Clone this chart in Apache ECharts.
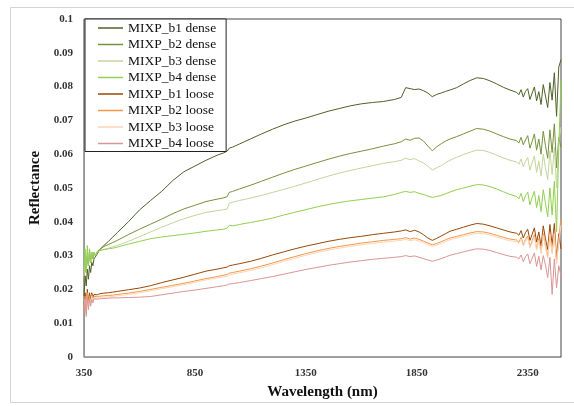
<!DOCTYPE html>
<html>
<head>
<meta charset="utf-8">
<script src="https://cdn.jsdelivr.net/npm/echarts@6/dist/echarts.min.js"></script>
<style>
html,body{margin:0;padding:0;background:#fff;}
#chart{width:574px;height:406px;}
</style>
</head>
<body>
<div id="chart"></div>
<script>
// Wavelengths (nm) shared by every series
var wavelengths = [
  350,355,360,365,370,375,380,385,390,395,400,
  410,420,440,460,480,500,
  550,600,650,700,750,800,850,900,950,
  980,995,1005,1020,
  1050,
  1100,1150,1200,1250,1300,1350,1400,1450,1500,1550,1600,1650,1700,1750,
  1780,
  1800,1820,1840,1860,1880,1900,1920,1940,1960,1980,2000,
  2030,2060,2090,2120,2150,2180,2210,2240,2270,
  2300,2310,2320,2330,2340,2350,2360,2370,2380,2390,2400,2410,2420,2430,2440,2450,2460,2470,2480,2490,2500
];

var seriesNames = ['MIXP_b1 dense','MIXP_b2 dense','MIXP_b3 dense','MIXP_b4 dense',
                   'MIXP_b1 loose','MIXP_b2 loose','MIXP_b3 loose','MIXP_b4 loose'];

var b1Dense = [
  0.018,0.024,0.021,0.026,0.023,0.027,0.025,0.028,0.027,0.029,0.029,
  0.0305,0.0317,0.0330,0.0342,0.0355,0.0368,
  0.0400,0.0435,0.0463,0.0490,0.0522,0.0548,0.0565,0.0582,0.0597,
  0.0604,0.0609,0.0618,0.0621,
  0.0630,
  0.0645,0.0660,0.0674,0.0687,0.0698,0.0707,0.0717,0.0727,0.0735,0.0743,0.0749,0.0753,0.0756,0.0762,
  0.0768,
  0.0797,0.0794,0.0791,0.0793,0.0788,0.0781,0.0770,0.0777,0.0781,0.0786,0.0790,
  0.0797,0.0808,0.0818,0.0826,0.0824,0.0817,0.0808,0.0798,0.0790,
  0.0783,0.0776,0.0791,0.0769,0.0786,0.0794,0.0762,0.0781,0.0799,0.0758,0.0785,0.0747,0.0806,0.0772,0.0738,0.0812,0.0760,0.0841,0.0712,0.0858,0.0880
];
var b2Dense = [
  0.022,0.028,0.025,0.030,0.027,0.031,0.028,0.031,0.029,0.031,0.030,
  0.0312,0.0318,0.0327,0.0333,0.0339,0.0345,
  0.0362,0.0378,0.0393,0.0408,0.0424,0.0438,0.0449,0.0460,0.0467,
  0.0471,0.0474,0.0487,0.0490,
  0.0497,
  0.0508,0.0520,0.0532,0.0544,0.0555,0.0565,0.0575,0.0585,0.0594,0.0602,0.0609,0.0616,0.0624,0.0631,
  0.0637,
  0.0645,0.0641,0.0647,0.0648,0.0639,0.0624,0.0610,0.0622,0.0631,0.0639,0.0645,
  0.0652,0.0660,0.0668,0.0676,0.0674,0.0668,0.0660,0.0652,0.0645,
  0.0640,0.0633,0.0650,0.0628,0.0642,0.0655,0.0618,0.0638,0.0660,0.0612,0.0645,0.0600,0.0668,0.0625,0.0588,0.0672,0.0605,0.0690,0.0560,0.0650,0.0620
];
var b3Dense = [
  0.024,0.029,0.026,0.031,0.028,0.032,0.029,0.031,0.030,0.031,0.030,
  0.0310,0.0314,0.0318,0.0322,0.0326,0.0330,
  0.0342,0.0356,0.0370,0.0384,0.0397,0.0409,0.0419,0.0428,0.0433,
  0.0436,0.0438,0.0455,0.0458,
  0.0463,
  0.0470,0.0478,0.0487,0.0496,0.0505,0.0515,0.0525,0.0535,0.0544,0.0552,0.0559,0.0566,0.0573,0.0578,
  0.0582,
  0.0588,0.0584,0.0587,0.0580,0.0574,0.0564,0.0553,0.0560,0.0566,0.0575,0.0582,
  0.0591,0.0599,0.0606,0.0612,0.0611,0.0605,0.0597,0.0589,0.0582,
  0.0577,0.0570,0.0586,0.0563,0.0579,0.0590,0.0553,0.0575,0.0595,0.0546,0.0580,0.0535,0.0600,0.0560,0.0525,0.0610,0.0540,0.0620,0.0500,0.0640,0.0680
];
var b4Dense = [
  0.026,0.032,0.025,0.033,0.027,0.032,0.028,0.031,0.029,0.031,0.030,
  0.0308,0.0315,0.0318,0.0320,0.0322,0.0325,
  0.0334,0.0342,0.0350,0.0355,0.0359,0.0363,0.0367,0.0372,0.0376,
  0.0378,0.0381,0.0390,0.0388,
  0.0392,
  0.0398,0.0404,0.0411,0.0420,0.0428,0.0436,0.0444,0.0451,0.0457,0.0462,0.0466,0.0470,0.0474,0.0481,
  0.0487,
  0.0490,0.0487,0.0489,0.0484,0.0481,0.0476,0.0472,0.0475,0.0478,0.0483,0.0488,
  0.0495,0.0500,0.0505,0.0510,0.0509,0.0504,0.0497,0.0489,0.0481,
  0.0475,0.0468,0.0484,0.0460,0.0477,0.0488,0.0450,0.0472,0.0490,0.0442,0.0478,0.0430,0.0495,0.0455,0.0415,0.0500,0.0420,0.0520,0.0370,0.0620,0.0820
];
var b1Loose = [
  0.015,0.019,0.014,0.020,0.016,0.019,0.017,0.019,0.0175,0.0185,0.0180,
  0.0184,0.0187,0.0189,0.0190,0.0192,0.0194,
  0.0199,0.0204,0.0211,0.0220,0.0228,0.0236,0.0245,0.0254,0.0260,
  0.0264,0.0266,0.0270,0.0272,
  0.0276,
  0.0283,0.0292,0.0302,0.0311,0.0320,0.0328,0.0335,0.0342,0.0348,0.0353,0.0357,0.0362,0.0366,0.0370,
  0.0373,
  0.0376,0.0371,0.0375,0.0370,0.0362,0.0352,0.0345,0.0351,0.0358,0.0365,0.0372,
  0.0378,0.0384,0.0390,0.0395,0.0393,0.0388,0.0382,0.0376,0.0370,
  0.0366,0.0360,0.0374,0.0352,0.0368,0.0378,0.0345,0.0363,0.0382,0.0340,0.0370,0.0328,0.0388,0.0350,0.0318,0.0392,0.0330,0.0395,0.0290,0.0365,0.0320
];
var b2Loose = [
  0.014,0.018,0.013,0.019,0.015,0.018,0.016,0.0185,0.017,0.018,0.0176,
  0.0178,0.0180,0.0181,0.0182,0.0183,0.0185,
  0.0189,0.0194,0.0200,0.0206,0.0212,0.0218,0.0225,0.0232,0.0238,
  0.0242,0.0244,0.0248,0.0250,
  0.0254,
  0.0261,0.0269,0.0278,0.0288,0.0297,0.0306,0.0314,0.0321,0.0327,0.0332,0.0337,0.0341,0.0345,0.0348,
  0.0350,
  0.0353,0.0349,0.0352,0.0348,0.0343,0.0337,0.0332,0.0336,0.0341,0.0347,0.0352,
  0.0357,0.0362,0.0367,0.0371,0.0370,0.0366,0.0360,0.0354,0.0349,
  0.0346,0.0340,0.0354,0.0332,0.0348,0.0358,0.0326,0.0344,0.0362,0.0320,0.0350,0.0310,0.0365,0.0330,0.0298,0.0368,0.0310,0.0372,0.0280,0.0350,0.0410
];
var b3Loose = [
  0.015,0.017,0.014,0.018,0.015,0.0175,0.016,0.018,0.0168,0.0175,0.0172,
  0.0174,0.0176,0.0177,0.0178,0.0179,0.0181,
  0.0185,0.0190,0.0196,0.0202,0.0208,0.0214,0.0221,0.0228,0.0234,
  0.0237,0.0239,0.0243,0.0245,
  0.0249,
  0.0256,0.0264,0.0273,0.0283,0.0292,0.0301,0.0309,0.0316,0.0322,0.0327,0.0332,0.0336,0.0340,0.0343,
  0.0345,
  0.0348,0.0344,0.0347,0.0343,0.0338,0.0332,0.0327,0.0331,0.0336,0.0342,0.0347,
  0.0352,0.0357,0.0362,0.0366,0.0365,0.0361,0.0355,0.0349,0.0344,
  0.0341,0.0336,0.0349,0.0328,0.0343,0.0352,0.0322,0.0339,0.0356,0.0316,0.0345,0.0305,0.0360,0.0325,0.0292,0.0362,0.0305,0.0365,0.0275,0.0340,0.0390
];
var b4Loose = [
  0.013,0.017,0.012,0.018,0.014,0.0175,0.015,0.017,0.016,0.0172,0.0170,
  0.0171,0.0172,0.0173,0.0174,0.0175,0.0175,
  0.0176,0.0177,0.0179,0.0184,0.0189,0.0194,0.0198,0.0203,0.0208,
  0.0211,0.0213,0.0216,0.0217,
  0.0220,
  0.0226,0.0232,0.0238,0.0245,0.0252,0.0259,0.0265,0.0271,0.0276,0.0281,0.0285,0.0289,0.0292,0.0295,
  0.0297,
  0.0300,0.0297,0.0299,0.0295,0.0291,0.0287,0.0283,0.0287,0.0291,0.0296,0.0301,
  0.0306,0.0311,0.0316,0.0320,0.0319,0.0315,0.0309,0.0303,0.0298,
  0.0295,0.0290,0.0302,0.0282,0.0297,0.0305,0.0276,0.0292,0.0308,0.0268,0.0298,0.0258,0.0300,0.0272,0.0235,0.0295,0.0185,0.0290,0.0205,0.0270,0.0240
];

var xTickLabels = [350, 850, 1350, 1850, 2350];
var seriesValues = [b1Dense,b2Dense,b3Dense,b4Dense,b1Loose,b2Loose,b3Loose,b4Loose];
var seriesColors = ['#4f6228','#76923c','#c3d69b','#92d050','#984807','#f79646','#fcd5b4','#d99694'];

var serif = '"Liberation Serif","DejaVu Serif",serif';

var series = seriesNames.map(function(name, i){
  return {
    name: name,
    type: 'line',
    symbol: 'none',
    showSymbol: false,
    animation: false,
    data: wavelengths.map(function(w, j){ return [w, seriesValues[i][j]]; }),
    lineStyle: { width: 1, color: seriesColors[i] },
    itemStyle: { color: seriesColors[i] }
  };
});

var chart = echarts.init(document.getElementById('chart'), null, {renderer:'canvas'});
chart.setOption({
  animation: false,
  backgroundColor: '#fff',
  graphic: [{
    type: 'rect', z: -10, silent: true,
    shape: { x: 10.5, y: 7.5, width: 600, height: 395 },
    style: { fill: 'none', stroke: '#d4d4d4', lineWidth: 1 }
  }],
  grid: {
    left: 84, right: 13, top: 19, bottom: 49,
    show: true, borderColor: '#444', borderWidth: 1, backgroundColor: 'transparent'
  },
  legend: {
    data: seriesNames.map(function(n){ return { name: n, icon: 'rect' }; }),
    orient: 'vertical',
    left: 85, top: 19,
    padding: [2, 10, 1, 13],
    itemGap: 2.5,
    itemWidth: 25,
    itemHeight: 1.5,
    borderColor: '#222',
    borderWidth: 1,
    backgroundColor: '#fff',
    textStyle: { fontFamily: serif, fontSize: 13.5, lineHeight: 13, color: '#111' },
    z: 10
  },
  xAxis: {
    type: 'value',
    min: 350, max: 2500,
    name: 'Wavelength (nm)',
    nameLocation: 'middle',
    nameGap: 28,
    nameTextStyle: { fontFamily: serif, fontSize: 15, fontWeight: 'bold', color: '#111' },
    axisLine: { show: true, lineStyle: { color: '#999' } },
    axisTick: { show: false },
    splitLine: { show: false },
    axisLabel: {
      customValues: xTickLabels,
      formatter: function(v){ return String(v); },
      fontFamily: serif, fontSize: 11, fontWeight: 'bold', color: '#333', margin: 11
    }
  },
  yAxis: {
    type: 'value',
    min: 0, max: 0.1, interval: 0.01,
    name: 'Reflectance',
    nameLocation: 'middle',
    nameGap: 31,
    nameTextStyle: { fontFamily: serif, fontSize: 15, fontWeight: 'bold', color: '#111' },
    axisLine: { show: true, lineStyle: { color: '#999' } },
    axisTick: { show: false },
    splitLine: { show: false },
    axisLabel: {
      fontFamily: serif, fontSize: 11, fontWeight: 'bold', color: '#333', margin: 11,
      formatter: function(v){ return String(+v.toFixed(2)); }
    }
  },
  series: series
});
</script>
</body>
</html>
